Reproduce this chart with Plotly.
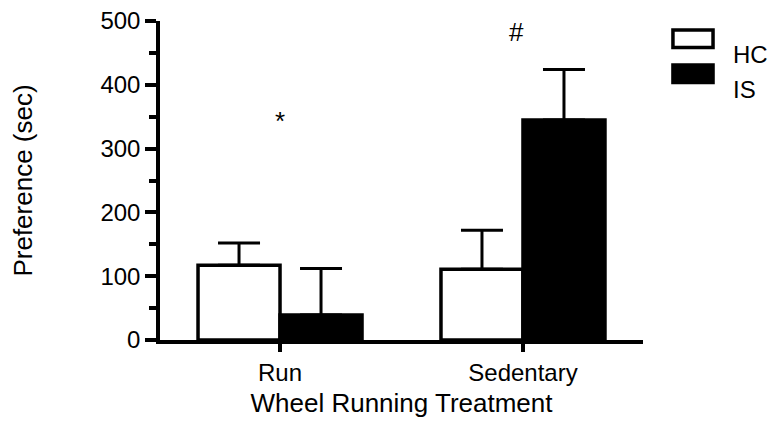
import plotly.graph_objects as go

categories = ["Run", "Sedentary"]
hc_values = [117, 111]
hc_err = [35, 61]
is_values = [39, 345]
is_err = [73, 79]
sig_marks = ["*", "#"]
sig_heights = [344, 483]

font = "Liberation Sans, Arial, sans-serif"

fig = go.Figure()

fig.add_trace(go.Bar(
    x=categories, y=hc_values, name="HC",
    marker=dict(color="white", line=dict(color="black", width=3.5)),
    error_y=dict(type="data", array=hc_err, arrayminus=[0, 0], symmetric=False,
                 color="black", thickness=3, width=21),
    showlegend=False,
))
fig.add_trace(go.Bar(
    x=categories, y=is_values, name="IS",
    marker=dict(color="black", line=dict(color="black", width=3.5)),
    error_y=dict(type="data", array=is_err, arrayminus=[0, 0], symmetric=False,
                 color="black", thickness=3, width=21),
    showlegend=False,
))

# significance marks
for cat, mark, h, dx in zip(categories, sig_marks, sig_heights, [0, -6]):
    fig.add_annotation(x=cat, y=h, text=mark, showarrow=False, xshift=dx,
                       font=dict(size=26, color="black", family=font))

# legend drawn by hand to get the large boxes
legend_items = [("HC", "white"), ("IS", "black")]
for i, (label, color) in enumerate(legend_items):
    y0 = 0.972 - i * 0.11
    fig.add_shape(type="rect", xref="paper", yref="paper",
                  x0=1.062, x1=1.145, y0=y0 - 0.055, y1=y0,
                  fillcolor=color, line=dict(color="black", width=3.5))
    fig.add_annotation(xref="paper", yref="paper", x=1.182, y=y0 - 0.0275,
                       text=label, showarrow=False, xanchor="left",
                       font=dict(size=24, color="black", family=font))

# the page body adds 8px on the left/top, so margins are trimmed by that much
fig.update_layout(
    width=779, height=434,
    margin=dict(l=152, r=144, t=13, b=102),
    plot_bgcolor="white", paper_bgcolor="white",
    barmode="group", bargap=0.325, bargroupgap=0,
    font=dict(family=font, color="black", size=24),
    xaxis=dict(
        range=[-0.494, 1.494], showline=True, linecolor="black", linewidth=3.5,
        ticks="outside", ticklen=8, tickwidth=3.5, tickcolor="black",
        tickfont=dict(size=24), automargin=False,
        title=dict(text="Wheel Running Treatment", font=dict(size=26), standoff=10),
        showgrid=False, zeroline=False,
    ),
    yaxis=dict(
        range=[0, 500], tickvals=[0, 100, 200, 300, 400, 500],
        showline=True, linecolor="black", linewidth=3.5,
        ticks="outside", ticklen=11, tickwidth=3.5, tickcolor="black",
        minor=dict(dtick=50, ticks="outside", ticklen=7, tickwidth=3.5, tickcolor="black"),
        tickfont=dict(size=24), automargin=False, ticklabeloverflow="allow",
        title=dict(text="Preference (sec)", font=dict(size=26), standoff=67),
        showgrid=False, zeroline=False,
    ),
)

fig.write_html("out.html")
